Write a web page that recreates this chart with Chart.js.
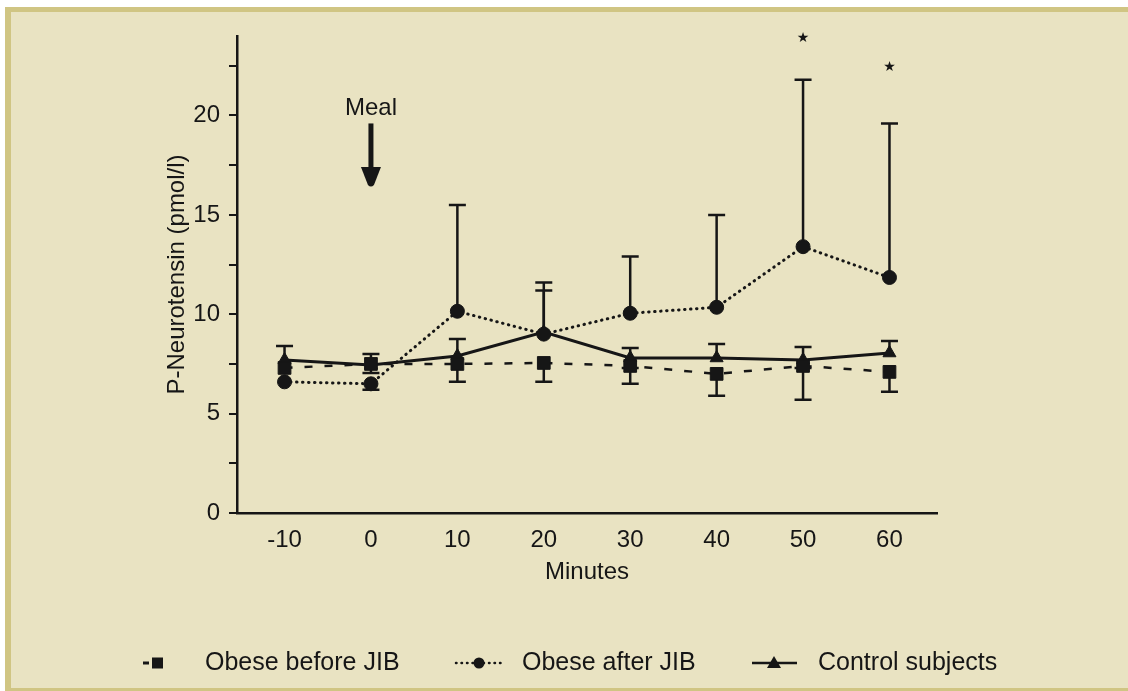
<!DOCTYPE html>
<html>
<head>
<meta charset="utf-8">
<script src="https://cdn.jsdelivr.net/npm/chart.js@4.4.1/dist/chart.umd.min.js"></script>
<style>
    html, body { margin: 0; padding: 0; background: #fff; }
    #wrap { width: 1128px; height: 691px; position: relative; }
</style>
</head>
<body>
<div id="wrap"><canvas id="grafico-neurotensin"></canvas></div>
<script>
// data (pmol/l)
const MINUTES = [-10, 0, 10, 20, 30, 40, 50, 60]
const SERIES_NAMES = ['Obese before JIB', 'Obese after JIB', 'Control subjects']

const BEFORE_JIB = [7.3, 7.5, 7.5, 7.55, 7.4, 7.0, 7.4, 7.1]
const BEFORE_JIB_HIGH = [null, null, null, null, null, null, null, null]
const BEFORE_JIB_LOW = [null, 7.05, 6.6, 6.6, 6.5, 5.9, 5.7, 6.1]

const AFTER_JIB = [6.6, 6.5, 10.15, 9.0, 10.05, 10.35, 13.4, 11.85]
const AFTER_JIB_HIGH = [null, null, 15.5, 11.6, 12.9, 15.0, 21.8, 19.6]
const AFTER_JIB_LOW = [null, 6.2, null, null, null, null, null, null]

const CONTROL = [7.7, 7.45, 7.9, 9.1, 7.8, 7.8, 7.7, 8.05]
const CONTROL_HIGH = [8.4, 8.0, 8.75, 11.2, 8.3, 8.5, 8.35, 8.65]
const CONTROL_LOW = [null, null, null, null, 7.3, null, 7.3, null]

const Y_TICKS = [0, 2.5, 5, 7.5, 10, 12.5, 15, 17.5, 20, 22.5]
const STAR_MINUTES = [50, 60]
const STAR_VALUES = [23.9, 22.4]
const MEAL_MINUTE = 0
const MEAL_LABEL_VALUE = 20.35
const MEAL_ARROW = [19.6, 16.4]

const INK = '#161616'
const BG = '#e9e3c2'
const GOLD = '#d0c583'
const FONT = '"Liberation Sans", Arial, sans-serif'

const framePlugin = {
    id: 'frame',
    beforeDraw(chart) {
        const { ctx, width, height } = chart
        ctx.save()
        ctx.fillStyle = '#fff'
        ctx.fillRect(0, 0, width, height)
        ctx.fillStyle = GOLD
        ctx.fillRect(5, 7, width - 5, height - 7)
        ctx.fillStyle = BG
        ctx.fillRect(11, 12, width - 11, height - 15)
        ctx.restore()
    }
}

const errorBarPlugin = {
    id: 'errorBars',
    beforeDatasetsDraw(chart) {
        const { ctx, scales: { x, y } } = chart
        ctx.save()
        ctx.strokeStyle = INK
        ctx.lineWidth = 2.5
        ctx.setLineDash([])
        chart.data.datasets.forEach(ds => {
            if (!ds.errHigh) return
            ds.data.forEach((pt, i) => {
                const px = x.getPixelForValue(pt.x)
                const py = y.getPixelForValue(pt.y)
                ;[ds.errHigh[i], ds.errLow[i]].forEach(end => {
                    if (end == null) return
                    const ey = y.getPixelForValue(end)
                    ctx.beginPath()
                    ctx.moveTo(px, py)
                    ctx.lineTo(px, ey)
                    ctx.moveTo(px - 8.5, ey)
                    ctx.lineTo(px + 8.5, ey)
                    ctx.stroke()
                })
            })
        })
        ctx.restore()
    }
}

const annotationPlugin = {
    id: 'annotations',
    afterDraw(chart) {
        const { ctx, scales: { x, y } } = chart
        ctx.save()
        ctx.fillStyle = INK
        // Meal arrow
        const mx = x.getPixelForValue(MEAL_MINUTE)
        ctx.font = `24px ${FONT}`
        ctx.textAlign = 'center'
        ctx.textBaseline = 'middle'
        ctx.fillText('Meal', mx, y.getPixelForValue(MEAL_LABEL_VALUE))
        const top = y.getPixelForValue(MEAL_ARROW[0])
        const tip = y.getPixelForValue(MEAL_ARROW[1])
        ctx.fillRect(mx - 2.5, top, 5, tip - top - 18)
        ctx.beginPath()
        ctx.moveTo(mx - 10, tip - 20)
        ctx.lineTo(mx + 10, tip - 20)
        ctx.lineTo(mx + 3, tip - 2)
        ctx.quadraticCurveTo(mx, tip + 1, mx - 3, tip - 2)
        ctx.closePath()
        ctx.fill()
        // significance stars
        ctx.font = `14px "DejaVu Sans", sans-serif`
        STAR_MINUTES.forEach((m, i) => {
            ctx.fillText('\u2605', x.getPixelForValue(m), y.getPixelForValue(STAR_VALUES[i]))
        })
        ctx.restore()
    }
}

const legendPlugin = {
    id: 'bottomLegend',
    afterDraw(chart) {
        const { ctx } = chart
        const ly = 663
        const ds = chart.data.datasets
        ctx.save()
        ctx.strokeStyle = INK
        ctx.fillStyle = INK
        // before JIB: short dash + square
        ctx.lineWidth = 3
        ctx.beginPath(); ctx.moveTo(143, ly); ctx.lineTo(149, ly); ctx.stroke()
        ctx.fillRect(152, ly - 5.5, 11, 11)
        // after JIB: dots + circle
        ctx.lineWidth = 2.5
        ctx.lineCap = 'round'
        ctx.setLineDash([0.5, 5])
        ctx.beginPath(); ctx.moveTo(456, ly); ctx.lineTo(502, ly); ctx.stroke()
        ctx.setLineDash([])
        ctx.beginPath(); ctx.arc(479, ly, 5.5, 0, Math.PI * 2); ctx.fill()
        // control: line + triangle
        ctx.lineCap = 'butt'
        ctx.lineWidth = 2.5
        ctx.beginPath(); ctx.moveTo(752, ly); ctx.lineTo(797, ly); ctx.stroke()
        ctx.beginPath(); ctx.moveTo(774, ly - 7); ctx.lineTo(781, ly + 5); ctx.lineTo(767, ly + 5); ctx.closePath(); ctx.fill()

        ctx.font = `25px ${FONT}`
        ctx.textAlign = 'left'
        ctx.textBaseline = 'middle'
        ctx.fillText(ds[0].label, 205, ly)
        ctx.fillText(ds[1].label, 522, ly)
        ctx.fillText(ds[2].label, 818, ly)
        ctx.restore()
    }
}

const _series = (label, values, high, low, extra) => ({
    label,
    data: values.map((v, i) => ({ x: MINUTES[i], y: v })),
    errHigh: high,
    errLow: low,
    borderColor: INK,
    backgroundColor: INK,
    pointBackgroundColor: INK,
    pointBorderColor: INK,
    pointBorderWidth: 1,
    tension: 0,
    ...extra
})

const ctx = document.getElementById('grafico-neurotensin')
new Chart(ctx, {
    type: 'line',
    data: {
        datasets: [
            _series(SERIES_NAMES[0], BEFORE_JIB, BEFORE_JIB_HIGH, BEFORE_JIB_LOW, {
                borderWidth: 2.5, borderDash: [8, 12], pointStyle: 'rect', pointRadius: 9
            }),
            _series(SERIES_NAMES[1], AFTER_JIB, AFTER_JIB_HIGH, AFTER_JIB_LOW, {
                borderWidth: 3, borderDash: [0.5, 5.5], borderCapStyle: 'round', pointStyle: 'circle', pointRadius: 7
            }),
            _series(SERIES_NAMES[2], CONTROL, CONTROL_HIGH, CONTROL_LOW, {
                borderWidth: 3, pointStyle: 'triangle', pointRadius: 7.5
            })
        ]
    },
    options: {
        responsive: true,
        maintainAspectRatio: false,
        animation: false,
        layout: { padding: { left: 160, top: 36, right: 191, bottom: 98 } },
        plugins: {
            legend: { display: false },
            tooltip: { enabled: false }
        },
        scales: {
            x: {
                type: 'linear',
                min: -15.5,
                max: 65.5,
                afterBuildTicks: (scale) => { scale.ticks = MINUTES.map(v => ({ value: v })) },
                afterFit: (scale) => { scale.height = 80 },
                grid: { display: false, drawTicks: false },
                border: { display: true, color: INK, width: 2.5 },
                ticks: { color: INK, font: { family: FONT, size: 24 }, padding: 13, maxRotation: 0 },
                title: {
                    display: true,
                    text: 'Minutes',
                    color: INK,
                    font: { family: FONT, size: 24 },
                    padding: { top: 0, bottom: 6 }
                }
            },
            y: {
                min: 0,
                max: 24,
                afterBuildTicks: (scale) => { scale.ticks = Y_TICKS.map(v => ({ value: v })) },
                afterFit: (scale) => { scale.width = 77 },
                grid: { drawOnChartArea: false, drawTicks: true, tickLength: 8, color: INK, lineWidth: 2 },
                border: { display: true, color: INK, width: 2.5 },
                ticks: {
                    color: INK,
                    font: { family: FONT, size: 24 },
                    padding: 9,
                    callback: (v) => (v % 5 === 0 ? v : '')
                },
                title: {
                    display: true,
                    text: 'P-Neurotensin (pmol/l)',
                    color: INK,
                    font: { family: FONT, size: 24 },
                    padding: { top: 3, bottom: 0 }
                }
            }
        }
    },
    plugins: [framePlugin, errorBarPlugin, annotationPlugin, legendPlugin]
})
</script>
</body>
</html>
